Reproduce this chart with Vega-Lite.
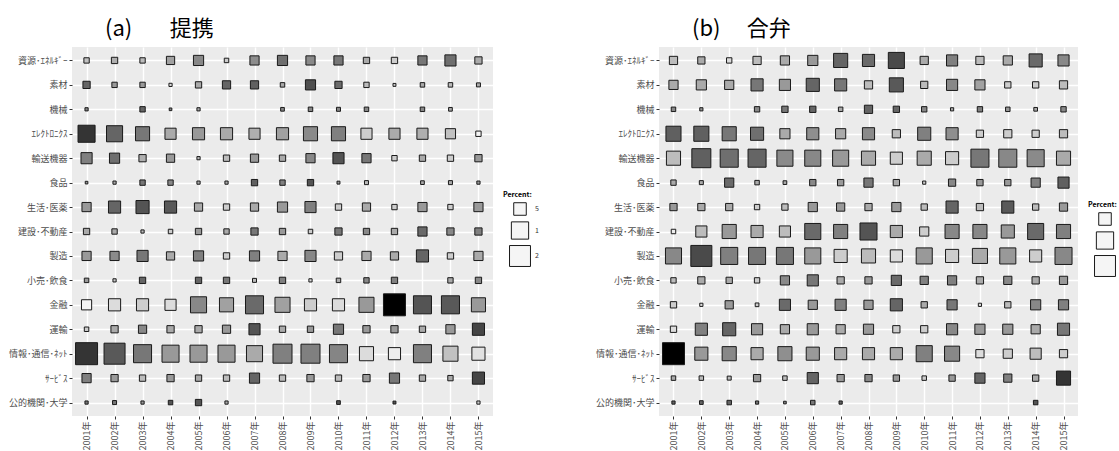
{
  "$schema": "https://vega.github.io/schema/vega-lite/v6.json",
  "background": "white",
  "padding": {"left": 0, "top": 18, "right": 0, "bottom": 0},
  "config": {
    "font": "Noto Sans CJK JP",
    "view": {"fill": "#EBEBEB", "stroke": null},
    "axis": {
      "grid": true,
      "gridColor": "#FFFFFF",
      "gridWidth": 1.4,
      "domain": false,
      "tickColor": "#333333",
      "tickSize": 3,
      "labelColor": "#4D4D4D",
      "labelFontSize": 9,
      "labelPadding": 2
    },
    "legend": {
      "titleFontSize": 7, "titleFontWeight": "bold", "titleColor": "#000000", "titlePadding": 4,
      "labelFontSize": 7, "labelColor": "#333333", "rowPadding": 1, "symbolOffset": 6,
      "symbolType": "square", "symbolFillColor": "#F5F5F5", "symbolStrokeColor": "#1A1A1A", "symbolStrokeWidth": 1
    },
    "title": {"font": "Noto Sans CJK JP", "fontWeight": "normal", "color": "#000000", "fontSize": 22, "anchor": "start", "frame": "group"}
  },
  "datasets": {
    "teikei": [
      {"industry": "資源･ｴﾈﾙｷﾞｰ", "year": "2001年", "percent": 2.65, "score": 22},
      {"industry": "資源･ｴﾈﾙｷﾞｰ", "year": "2002年", "percent": 2.80, "score": 29},
      {"industry": "資源･ｴﾈﾙｷﾞｰ", "year": "2003年", "percent": 2.65, "score": 24},
      {"industry": "資源･ｴﾈﾙｷﾞｰ", "year": "2004年", "percent": 3.21, "score": 35},
      {"industry": "資源･ｴﾈﾙｷﾞｰ", "year": "2005年", "percent": 3.83, "score": 45},
      {"industry": "資源･ｴﾈﾙｷﾞｰ", "year": "2006年", "percent": 2.54, "score": 17},
      {"industry": "資源･ｴﾈﾙｷﾞｰ", "year": "2007年", "percent": 3.49, "score": 43},
      {"industry": "資源･ｴﾈﾙｷﾞｰ", "year": "2008年", "percent": 3.83, "score": 55},
      {"industry": "資源･ｴﾈﾙｷﾞｰ", "year": "2009年", "percent": 3.49, "score": 44},
      {"industry": "資源･ｴﾈﾙｷﾞｰ", "year": "2010年", "percent": 3.49, "score": 52},
      {"industry": "資源･ｴﾈﾙｷﾞｰ", "year": "2011年", "percent": 2.80, "score": 31},
      {"industry": "資源･ｴﾈﾙｷﾞｰ", "year": "2012年", "percent": 2.80, "score": 17},
      {"industry": "資源･ｴﾈﾙｷﾞｰ", "year": "2013年", "percent": 3.49, "score": 52},
      {"industry": "資源･ｴﾈﾙｷﾞｰ", "year": "2014年", "percent": 4.24, "score": 55},
      {"industry": "資源･ｴﾈﾙｷﾞｰ", "year": "2015年", "percent": 2.98, "score": 31},
      {"industry": "素材", "year": "2001年", "percent": 2.98, "score": 59},
      {"industry": "素材", "year": "2002年", "percent": 2.65, "score": 38},
      {"industry": "素材", "year": "2003年", "percent": 2.65, "score": 38},
      {"industry": "素材", "year": "2004年", "percent": 2.42, "score": 11},
      {"industry": "素材", "year": "2005年", "percent": 2.80, "score": 31},
      {"industry": "素材", "year": "2006年", "percent": 3.21, "score": 59},
      {"industry": "素材", "year": "2007年", "percent": 3.21, "score": 61},
      {"industry": "素材", "year": "2008年", "percent": 2.54, "score": 31},
      {"industry": "素材", "year": "2009年", "percent": 3.83, "score": 68},
      {"industry": "素材", "year": "2010年", "percent": 2.98, "score": 57},
      {"industry": "素材", "year": "2011年", "percent": 2.65, "score": 24},
      {"industry": "素材", "year": "2012年", "percent": 2.40, "score": 17},
      {"industry": "素材", "year": "2013年", "percent": 2.54, "score": 31},
      {"industry": "素材", "year": "2014年", "percent": 2.54, "score": 24},
      {"industry": "素材", "year": "2015年", "percent": 2.49, "score": 31},
      {"industry": "機械", "year": "2001年", "percent": 2.42, "score": 45},
      {"industry": "機械", "year": "2003年", "percent": 2.65, "score": 59},
      {"industry": "機械", "year": "2004年", "percent": 2.38, "score": 45},
      {"industry": "機械", "year": "2005年", "percent": 2.42, "score": 31},
      {"industry": "機械", "year": "2008年", "percent": 2.46, "score": 45},
      {"industry": "機械", "year": "2009年", "percent": 2.54, "score": 45},
      {"industry": "機械", "year": "2010年", "percent": 2.49, "score": 45},
      {"industry": "機械", "year": "2011年", "percent": 2.54, "score": 45},
      {"industry": "機械", "year": "2013年", "percent": 2.54, "score": 45},
      {"industry": "機械", "year": "2014年", "percent": 2.46, "score": 31},
      {"industry": "ｴﾚｸﾄﾛﾆｸｽ", "year": "2001年", "percent": 9.64, "score": 79},
      {"industry": "ｴﾚｸﾄﾛﾆｸｽ", "year": "2002年", "percent": 8.21, "score": 59},
      {"industry": "ｴﾚｸﾄﾛﾆｸｽ", "year": "2003年", "percent": 6.13, "score": 52},
      {"industry": "ｴﾚｸﾄﾛﾆｸｽ", "year": "2004年", "percent": 4.24, "score": 31},
      {"industry": "ｴﾚｸﾄﾛﾆｸｽ", "year": "2005年", "percent": 4.75, "score": 38},
      {"industry": "ｴﾚｸﾄﾛﾆｸｽ", "year": "2006年", "percent": 4.75, "score": 31},
      {"industry": "ｴﾚｸﾄﾛﾆｸｽ", "year": "2007年", "percent": 4.24, "score": 29},
      {"industry": "ｴﾚｸﾄﾛﾆｸｽ", "year": "2008年", "percent": 4.75, "score": 35},
      {"industry": "ｴﾚｸﾄﾛﾆｸｽ", "year": "2009年", "percent": 6.13, "score": 44},
      {"industry": "ｴﾚｸﾄﾛﾆｸｽ", "year": "2010年", "percent": 6.13, "score": 48},
      {"industry": "ｴﾚｸﾄﾛﾆｸｽ", "year": "2011年", "percent": 4.24, "score": 17},
      {"industry": "ｴﾚｸﾄﾛﾆｸｽ", "year": "2012年", "percent": 4.24, "score": 31},
      {"industry": "ｴﾚｸﾄﾛﾆｸｽ", "year": "2013年", "percent": 4.24, "score": 29},
      {"industry": "ｴﾚｸﾄﾛﾆｸｽ", "year": "2014年", "percent": 3.83, "score": 22},
      {"industry": "ｴﾚｸﾄﾛﾆｸｽ", "year": "2015年", "percent": 2.65, "score": 1},
      {"industry": "輸送機器", "year": "2001年", "percent": 4.24, "score": 48},
      {"industry": "輸送機器", "year": "2002年", "percent": 3.83, "score": 55},
      {"industry": "輸送機器", "year": "2003年", "percent": 2.98, "score": 29},
      {"industry": "輸送機器", "year": "2004年", "percent": 3.21, "score": 38},
      {"industry": "輸送機器", "year": "2005年", "percent": 2.42, "score": 24},
      {"industry": "輸送機器", "year": "2006年", "percent": 2.80, "score": 24},
      {"industry": "輸送機器", "year": "2007年", "percent": 3.21, "score": 38},
      {"industry": "輸送機器", "year": "2008年", "percent": 2.80, "score": 31},
      {"industry": "輸送機器", "year": "2009年", "percent": 3.49, "score": 45},
      {"industry": "輸送機器", "year": "2010年", "percent": 4.24, "score": 66},
      {"industry": "輸送機器", "year": "2011年", "percent": 3.49, "score": 52},
      {"industry": "輸送機器", "year": "2012年", "percent": 2.65, "score": 17},
      {"industry": "輸送機器", "year": "2013年", "percent": 2.80, "score": 31},
      {"industry": "輸送機器", "year": "2014年", "percent": 2.80, "score": 17},
      {"industry": "輸送機器", "year": "2015年", "percent": 2.98, "score": 38},
      {"industry": "食品", "year": "2001年", "percent": 2.38, "score": 38},
      {"industry": "食品", "year": "2002年", "percent": 2.42, "score": 31},
      {"industry": "食品", "year": "2003年", "percent": 2.65, "score": 52},
      {"industry": "食品", "year": "2004年", "percent": 2.65, "score": 45},
      {"industry": "食品", "year": "2005年", "percent": 2.42, "score": 31},
      {"industry": "食品", "year": "2006年", "percent": 2.42, "score": 31},
      {"industry": "食品", "year": "2007年", "percent": 2.80, "score": 61},
      {"industry": "食品", "year": "2008年", "percent": 2.65, "score": 48},
      {"industry": "食品", "year": "2009年", "percent": 2.80, "score": 66},
      {"industry": "食品", "year": "2010年", "percent": 2.40, "score": 38},
      {"industry": "食品", "year": "2011年", "percent": 2.49, "score": 24},
      {"industry": "食品", "year": "2013年", "percent": 2.46, "score": 31},
      {"industry": "食品", "year": "2014年", "percent": 2.49, "score": 31},
      {"industry": "食品", "year": "2015年", "percent": 2.42, "score": 38},
      {"industry": "生活･医薬", "year": "2001年", "percent": 3.49, "score": 38},
      {"industry": "生活･医薬", "year": "2002年", "percent": 4.75, "score": 59},
      {"industry": "生活･医薬", "year": "2003年", "percent": 5.37, "score": 66},
      {"industry": "生活･医薬", "year": "2004年", "percent": 4.75, "score": 64},
      {"industry": "生活･医薬", "year": "2005年", "percent": 3.21, "score": 31},
      {"industry": "生活･医薬", "year": "2006年", "percent": 2.80, "score": 17},
      {"industry": "生活･医薬", "year": "2007年", "percent": 3.21, "score": 31},
      {"industry": "生活･医薬", "year": "2008年", "percent": 3.83, "score": 38},
      {"industry": "生活･医薬", "year": "2009年", "percent": 4.24, "score": 48},
      {"industry": "生活･医薬", "year": "2010年", "percent": 2.80, "score": 17},
      {"industry": "生活･医薬", "year": "2011年", "percent": 3.21, "score": 31},
      {"industry": "生活･医薬", "year": "2012年", "percent": 2.65, "score": 17},
      {"industry": "生活･医薬", "year": "2013年", "percent": 3.49, "score": 38},
      {"industry": "生活･医薬", "year": "2014年", "percent": 2.65, "score": 17},
      {"industry": "生活･医薬", "year": "2015年", "percent": 3.49, "score": 38},
      {"industry": "建設･不動産", "year": "2001年", "percent": 2.80, "score": 31},
      {"industry": "建設･不動産", "year": "2002年", "percent": 2.65, "score": 31},
      {"industry": "建設･不動産", "year": "2003年", "percent": 2.42, "score": 24},
      {"industry": "建設･不動産", "year": "2004年", "percent": 2.54, "score": 17},
      {"industry": "建設･不動産", "year": "2005年", "percent": 2.80, "score": 38},
      {"industry": "建設･不動産", "year": "2006年", "percent": 2.65, "score": 31},
      {"industry": "建設･不動産", "year": "2007年", "percent": 2.98, "score": 52},
      {"industry": "建設･不動産", "year": "2008年", "percent": 2.80, "score": 38},
      {"industry": "建設･不動産", "year": "2009年", "percent": 2.54, "score": 17},
      {"industry": "建設･不動産", "year": "2010年", "percent": 2.98, "score": 52},
      {"industry": "建設･不動産", "year": "2011年", "percent": 2.80, "score": 45},
      {"industry": "建設･不動産", "year": "2012年", "percent": 2.80, "score": 31},
      {"industry": "建設･不動産", "year": "2013年", "percent": 3.49, "score": 57},
      {"industry": "建設･不動産", "year": "2014年", "percent": 2.98, "score": 45},
      {"industry": "建設･不動産", "year": "2015年", "percent": 2.98, "score": 48},
      {"industry": "製造", "year": "2001年", "percent": 3.49, "score": 38},
      {"industry": "製造", "year": "2002年", "percent": 3.49, "score": 44},
      {"industry": "製造", "year": "2003年", "percent": 4.24, "score": 52},
      {"industry": "製造", "year": "2004年", "percent": 3.21, "score": 31},
      {"industry": "製造", "year": "2005年", "percent": 3.83, "score": 48},
      {"industry": "製造", "year": "2006年", "percent": 2.80, "score": 17},
      {"industry": "製造", "year": "2007年", "percent": 3.83, "score": 48},
      {"industry": "製造", "year": "2008年", "percent": 3.49, "score": 31},
      {"industry": "製造", "year": "2009年", "percent": 4.24, "score": 45},
      {"industry": "製造", "year": "2010年", "percent": 3.21, "score": 17},
      {"industry": "製造", "year": "2011年", "percent": 3.49, "score": 31},
      {"industry": "製造", "year": "2012年", "percent": 3.21, "score": 31},
      {"industry": "製造", "year": "2013年", "percent": 4.75, "score": 59},
      {"industry": "製造", "year": "2014年", "percent": 2.80, "score": 17},
      {"industry": "製造", "year": "2015年", "percent": 3.49, "score": 31},
      {"industry": "小売･飲食", "year": "2001年", "percent": 2.54, "score": 38},
      {"industry": "小売･飲食", "year": "2002年", "percent": 2.42, "score": 17},
      {"industry": "小売･飲食", "year": "2003年", "percent": 2.80, "score": 59},
      {"industry": "小売･飲食", "year": "2005年", "percent": 2.80, "score": 59},
      {"industry": "小売･飲食", "year": "2006年", "percent": 2.80, "score": 52},
      {"industry": "小売･飲食", "year": "2007年", "percent": 2.49, "score": 24},
      {"industry": "小売･飲食", "year": "2008年", "percent": 2.80, "score": 48},
      {"industry": "小売･飲食", "year": "2009年", "percent": 2.42, "score": 11},
      {"industry": "小売･飲食", "year": "2010年", "percent": 2.54, "score": 31},
      {"industry": "小売･飲食", "year": "2011年", "percent": 2.65, "score": 45},
      {"industry": "小売･飲食", "year": "2012年", "percent": 2.80, "score": 48},
      {"industry": "小売･飲食", "year": "2014年", "percent": 2.65, "score": 31},
      {"industry": "小売･飲食", "year": "2015年", "percent": 2.80, "score": 45},
      {"industry": "金融", "year": "2001年", "percent": 3.83, "score": 1},
      {"industry": "金融", "year": "2002年", "percent": 4.75, "score": 11},
      {"industry": "金融", "year": "2003年", "percent": 4.75, "score": 17},
      {"industry": "金融", "year": "2004年", "percent": 4.24, "score": 11},
      {"industry": "金融", "year": "2005年", "percent": 8.21, "score": 45},
      {"industry": "金融", "year": "2006年", "percent": 6.13, "score": 35},
      {"industry": "金融", "year": "2007年", "percent": 11.44, "score": 57},
      {"industry": "金融", "year": "2008年", "percent": 7.05, "score": 35},
      {"industry": "金融", "year": "2009年", "percent": 4.75, "score": 17},
      {"industry": "金融", "year": "2010年", "percent": 4.75, "score": 11},
      {"industry": "金融", "year": "2011年", "percent": 7.05, "score": 38},
      {"industry": "金融", "year": "2012年", "percent": 25.0, "score": 100},
      {"industry": "金融", "year": "2013年", "percent": 11.44, "score": 66},
      {"industry": "金融", "year": "2014年", "percent": 11.44, "score": 64},
      {"industry": "金融", "year": "2015年", "percent": 6.13, "score": 38},
      {"industry": "運輸", "year": "2001年", "percent": 2.54, "score": 17},
      {"industry": "運輸", "year": "2002年", "percent": 2.98, "score": 31},
      {"industry": "運輸", "year": "2003年", "percent": 3.21, "score": 45},
      {"industry": "運輸", "year": "2004年", "percent": 2.98, "score": 31},
      {"industry": "運輸", "year": "2005年", "percent": 2.98, "score": 31},
      {"industry": "運輸", "year": "2006年", "percent": 3.21, "score": 38},
      {"industry": "運輸", "year": "2007年", "percent": 4.24, "score": 66},
      {"industry": "運輸", "year": "2008年", "percent": 2.80, "score": 31},
      {"industry": "運輸", "year": "2009年", "percent": 2.80, "score": 38},
      {"industry": "運輸", "year": "2010年", "percent": 3.83, "score": 52},
      {"industry": "運輸", "year": "2011年", "percent": 2.98, "score": 38},
      {"industry": "運輸", "year": "2012年", "percent": 2.98, "score": 38},
      {"industry": "運輸", "year": "2013年", "percent": 2.80, "score": 31},
      {"industry": "運輸", "year": "2014年", "percent": 3.49, "score": 38},
      {"industry": "運輸", "year": "2015年", "percent": 4.75, "score": 72},
      {"industry": "情報･通信･ﾈｯﾄ", "year": "2001年", "percent": 25.0, "score": 79},
      {"industry": "情報･通信･ﾈｯﾄ", "year": "2002年", "percent": 20.3, "score": 64},
      {"industry": "情報･通信･ﾈｯﾄ", "year": "2003年", "percent": 11.44, "score": 52},
      {"industry": "情報･通信･ﾈｯﾄ", "year": "2004年", "percent": 9.64, "score": 38},
      {"industry": "情報･通信･ﾈｯﾄ", "year": "2005年", "percent": 9.64, "score": 38},
      {"industry": "情報･通信･ﾈｯﾄ", "year": "2006年", "percent": 9.64, "score": 38},
      {"industry": "情報･通信･ﾈｯﾄ", "year": "2007年", "percent": 8.21, "score": 31},
      {"industry": "情報･通信･ﾈｯﾄ", "year": "2008年", "percent": 13.7, "score": 48},
      {"industry": "情報･通信･ﾈｯﾄ", "year": "2009年", "percent": 13.7, "score": 48},
      {"industry": "情報･通信･ﾈｯﾄ", "year": "2010年", "percent": 11.44, "score": 46},
      {"industry": "情報･通信･ﾈｯﾄ", "year": "2011年", "percent": 6.13, "score": 11},
      {"industry": "情報･通信･ﾈｯﾄ", "year": "2012年", "percent": 4.75, "score": 4},
      {"industry": "情報･通信･ﾈｯﾄ", "year": "2013年", "percent": 11.44, "score": 48},
      {"industry": "情報･通信･ﾈｯﾄ", "year": "2014年", "percent": 7.05, "score": 22},
      {"industry": "情報･通信･ﾈｯﾄ", "year": "2015年", "percent": 5.37, "score": 9},
      {"industry": "ｻｰﾋﾞｽ", "year": "2001年", "percent": 3.49, "score": 48},
      {"industry": "ｻｰﾋﾞｽ", "year": "2002年", "percent": 2.98, "score": 38},
      {"industry": "ｻｰﾋﾞｽ", "year": "2003年", "percent": 2.80, "score": 24},
      {"industry": "ｻｰﾋﾞｽ", "year": "2004年", "percent": 2.98, "score": 38},
      {"industry": "ｻｰﾋﾞｽ", "year": "2005年", "percent": 2.80, "score": 31},
      {"industry": "ｻｰﾋﾞｽ", "year": "2006年", "percent": 2.80, "score": 24},
      {"industry": "ｻｰﾋﾞｽ", "year": "2007年", "percent": 3.83, "score": 59},
      {"industry": "ｻｰﾋﾞｽ", "year": "2008年", "percent": 2.80, "score": 24},
      {"industry": "ｻｰﾋﾞｽ", "year": "2009年", "percent": 2.98, "score": 38},
      {"industry": "ｻｰﾋﾞｽ", "year": "2010年", "percent": 2.80, "score": 24},
      {"industry": "ｻｰﾋﾞｽ", "year": "2011年", "percent": 2.98, "score": 38},
      {"industry": "ｻｰﾋﾞｽ", "year": "2012年", "percent": 3.83, "score": 52},
      {"industry": "ｻｰﾋﾞｽ", "year": "2013年", "percent": 2.80, "score": 31},
      {"industry": "ｻｰﾋﾞｽ", "year": "2014年", "percent": 2.65, "score": 31},
      {"industry": "ｻｰﾋﾞｽ", "year": "2015年", "percent": 4.75, "score": 72},
      {"industry": "公的機関･大学", "year": "2001年", "percent": 2.42, "score": 52},
      {"industry": "公的機関･大学", "year": "2002年", "percent": 2.49, "score": 52},
      {"industry": "公的機関･大学", "year": "2003年", "percent": 2.42, "score": 38},
      {"industry": "公的機関･大学", "year": "2004年", "percent": 2.54, "score": 66},
      {"industry": "公的機関･大学", "year": "2005年", "percent": 2.80, "score": 66},
      {"industry": "公的機関･大学", "year": "2006年", "percent": 2.42, "score": 31},
      {"industry": "公的機関･大学", "year": "2010年", "percent": 2.46, "score": 66},
      {"industry": "公的機関･大学", "year": "2012年", "percent": 2.40, "score": 66},
      {"industry": "公的機関･大学", "year": "2015年", "percent": 2.42, "score": 17}
    ],
    "goben": [
      {"industry": "資源･ｴﾈﾙｷﾞｰ", "year": "2001年", "percent": 3.21, "score": 24},
      {"industry": "資源･ｴﾈﾙｷﾞｰ", "year": "2002年", "percent": 2.98, "score": 31},
      {"industry": "資源･ｴﾈﾙｷﾞｰ", "year": "2003年", "percent": 2.65, "score": 11},
      {"industry": "資源･ｴﾈﾙｷﾞｰ", "year": "2004年", "percent": 3.21, "score": 24},
      {"industry": "資源･ｴﾈﾙｷﾞｰ", "year": "2005年", "percent": 3.49, "score": 31},
      {"industry": "資源･ｴﾈﾙｷﾞｰ", "year": "2006年", "percent": 3.83, "score": 38},
      {"industry": "資源･ｴﾈﾙｷﾞｰ", "year": "2007年", "percent": 6.13, "score": 59},
      {"industry": "資源･ｴﾈﾙｷﾞｰ", "year": "2008年", "percent": 4.75, "score": 57},
      {"industry": "資源･ｴﾈﾙｷﾞｰ", "year": "2009年", "percent": 8.21, "score": 70},
      {"industry": "資源･ｴﾈﾙｷﾞｰ", "year": "2010年", "percent": 3.21, "score": 31},
      {"industry": "資源･ｴﾈﾙｷﾞｰ", "year": "2011年", "percent": 4.24, "score": 48},
      {"industry": "資源･ｴﾈﾙｷﾞｰ", "year": "2012年", "percent": 3.21, "score": 24},
      {"industry": "資源･ｴﾈﾙｷﾞｰ", "year": "2013年", "percent": 3.49, "score": 31},
      {"industry": "資源･ｴﾈﾙｷﾞｰ", "year": "2014年", "percent": 5.37, "score": 57},
      {"industry": "資源･ｴﾈﾙｷﾞｰ", "year": "2015年", "percent": 4.24, "score": 45},
      {"industry": "素材", "year": "2001年", "percent": 3.49, "score": 31},
      {"industry": "素材", "year": "2002年", "percent": 3.83, "score": 31},
      {"industry": "素材", "year": "2003年", "percent": 3.49, "score": 31},
      {"industry": "素材", "year": "2004年", "percent": 4.75, "score": 52},
      {"industry": "素材", "year": "2005年", "percent": 4.24, "score": 38},
      {"industry": "素材", "year": "2006年", "percent": 5.37, "score": 59},
      {"industry": "素材", "year": "2007年", "percent": 4.75, "score": 52},
      {"industry": "素材", "year": "2008年", "percent": 3.21, "score": 24},
      {"industry": "素材", "year": "2009年", "percent": 6.13, "score": 64},
      {"industry": "素材", "year": "2010年", "percent": 2.98, "score": 24},
      {"industry": "素材", "year": "2011年", "percent": 4.24, "score": 45},
      {"industry": "素材", "year": "2012年", "percent": 3.83, "score": 35},
      {"industry": "素材", "year": "2013年", "percent": 2.80, "score": 17},
      {"industry": "素材", "year": "2014年", "percent": 2.80, "score": 17},
      {"industry": "素材", "year": "2015年", "percent": 3.21, "score": 24},
      {"industry": "機械", "year": "2001年", "percent": 2.54, "score": 45},
      {"industry": "機械", "year": "2002年", "percent": 2.42, "score": 38},
      {"industry": "機械", "year": "2004年", "percent": 2.65, "score": 45},
      {"industry": "機械", "year": "2005年", "percent": 2.80, "score": 52},
      {"industry": "機械", "year": "2006年", "percent": 2.80, "score": 59},
      {"industry": "機械", "year": "2007年", "percent": 2.54, "score": 31},
      {"industry": "機械", "year": "2008年", "percent": 3.21, "score": 59},
      {"industry": "機械", "year": "2009年", "percent": 2.80, "score": 59},
      {"industry": "機械", "year": "2010年", "percent": 2.65, "score": 45},
      {"industry": "機械", "year": "2011年", "percent": 2.42, "score": 31},
      {"industry": "機械", "year": "2012年", "percent": 2.65, "score": 48},
      {"industry": "機械", "year": "2013年", "percent": 2.54, "score": 38},
      {"industry": "機械", "year": "2014年", "percent": 2.46, "score": 31},
      {"industry": "機械", "year": "2015年", "percent": 2.65, "score": 45},
      {"industry": "ｴﾚｸﾄﾛﾆｸｽ", "year": "2001年", "percent": 7.05, "score": 61},
      {"industry": "ｴﾚｸﾄﾛﾆｸｽ", "year": "2002年", "percent": 7.05, "score": 61},
      {"industry": "ｴﾚｸﾄﾛﾆｸｽ", "year": "2003年", "percent": 6.13, "score": 52},
      {"industry": "ｴﾚｸﾄﾛﾆｸｽ", "year": "2004年", "percent": 5.37, "score": 55},
      {"industry": "ｴﾚｸﾄﾛﾆｸｽ", "year": "2005年", "percent": 3.83, "score": 31},
      {"industry": "ｴﾚｸﾄﾛﾆｸｽ", "year": "2006年", "percent": 4.75, "score": 42},
      {"industry": "ｴﾚｸﾄﾛﾆｸｽ", "year": "2007年", "percent": 3.83, "score": 31},
      {"industry": "ｴﾚｸﾄﾛﾆｸｽ", "year": "2008年", "percent": 4.75, "score": 44},
      {"industry": "ｴﾚｸﾄﾛﾆｸｽ", "year": "2009年", "percent": 3.21, "score": 24},
      {"industry": "ｴﾚｸﾄﾛﾆｸｽ", "year": "2010年", "percent": 5.37, "score": 48},
      {"industry": "ｴﾚｸﾄﾛﾆｸｽ", "year": "2011年", "percent": 4.75, "score": 42},
      {"industry": "ｴﾚｸﾄﾛﾆｸｽ", "year": "2012年", "percent": 2.98, "score": 17},
      {"industry": "ｴﾚｸﾄﾛﾆｸｽ", "year": "2013年", "percent": 3.21, "score": 17},
      {"industry": "ｴﾚｸﾄﾛﾆｸｽ", "year": "2014年", "percent": 2.98, "score": 17},
      {"industry": "ｴﾚｸﾄﾛﾆｸｽ", "year": "2015年", "percent": 3.21, "score": 24},
      {"industry": "輸送機器", "year": "2001年", "percent": 6.13, "score": 24},
      {"industry": "輸送機器", "year": "2002年", "percent": 13.7, "score": 61},
      {"industry": "輸送機器", "year": "2003年", "percent": 11.44, "score": 55},
      {"industry": "輸送機器", "year": "2004年", "percent": 11.44, "score": 59},
      {"industry": "輸送機器", "year": "2005年", "percent": 8.21, "score": 44},
      {"industry": "輸送機器", "year": "2006年", "percent": 8.21, "score": 45},
      {"industry": "輸送機器", "year": "2007年", "percent": 8.21, "score": 38},
      {"industry": "輸送機器", "year": "2008年", "percent": 6.13, "score": 31},
      {"industry": "輸送機器", "year": "2009年", "percent": 4.75, "score": 17},
      {"industry": "輸送機器", "year": "2010年", "percent": 6.13, "score": 31},
      {"industry": "輸送機器", "year": "2011年", "percent": 5.37, "score": 17},
      {"industry": "輸送機器", "year": "2012年", "percent": 11.44, "score": 52},
      {"industry": "輸送機器", "year": "2013年", "percent": 11.44, "score": 45},
      {"industry": "輸送機器", "year": "2014年", "percent": 9.64, "score": 44},
      {"industry": "輸送機器", "year": "2015年", "percent": 6.13, "score": 31},
      {"industry": "食品", "year": "2001年", "percent": 2.65, "score": 31},
      {"industry": "食品", "year": "2002年", "percent": 2.49, "score": 31},
      {"industry": "食品", "year": "2003年", "percent": 3.49, "score": 57},
      {"industry": "食品", "year": "2004年", "percent": 2.54, "score": 31},
      {"industry": "食品", "year": "2005年", "percent": 2.46, "score": 31},
      {"industry": "食品", "year": "2006年", "percent": 2.80, "score": 45},
      {"industry": "食品", "year": "2007年", "percent": 2.80, "score": 38},
      {"industry": "食品", "year": "2008年", "percent": 3.49, "score": 52},
      {"industry": "食品", "year": "2009年", "percent": 2.80, "score": 31},
      {"industry": "食品", "year": "2010年", "percent": 2.42, "score": 17},
      {"industry": "食品", "year": "2011年", "percent": 2.98, "score": 45},
      {"industry": "食品", "year": "2012年", "percent": 2.80, "score": 38},
      {"industry": "食品", "year": "2013年", "percent": 2.80, "score": 38},
      {"industry": "食品", "year": "2014年", "percent": 3.49, "score": 48},
      {"industry": "食品", "year": "2015年", "percent": 4.24, "score": 61},
      {"industry": "生活･医薬", "year": "2001年", "percent": 2.98, "score": 38},
      {"industry": "生活･医薬", "year": "2002年", "percent": 2.98, "score": 31},
      {"industry": "生活･医薬", "year": "2003年", "percent": 2.98, "score": 31},
      {"industry": "生活･医薬", "year": "2004年", "percent": 2.65, "score": 17},
      {"industry": "生活･医薬", "year": "2005年", "percent": 2.80, "score": 24},
      {"industry": "生活･医薬", "year": "2006年", "percent": 3.49, "score": 38},
      {"industry": "生活･医薬", "year": "2007年", "percent": 3.21, "score": 38},
      {"industry": "生活･医薬", "year": "2008年", "percent": 2.98, "score": 31},
      {"industry": "生活･医薬", "year": "2009年", "percent": 3.49, "score": 38},
      {"industry": "生活･医薬", "year": "2010年", "percent": 2.80, "score": 24},
      {"industry": "生活･医薬", "year": "2011年", "percent": 4.75, "score": 59},
      {"industry": "生活･医薬", "year": "2012年", "percent": 2.98, "score": 24},
      {"industry": "生活･医薬", "year": "2013年", "percent": 4.75, "score": 64},
      {"industry": "生活･医薬", "year": "2014年", "percent": 2.80, "score": 24},
      {"industry": "生活･医薬", "year": "2015年", "percent": 3.21, "score": 38},
      {"industry": "建設･不動産", "year": "2001年", "percent": 2.54, "score": 4},
      {"industry": "建設･不動産", "year": "2002年", "percent": 4.24, "score": 24},
      {"industry": "建設･不動産", "year": "2003年", "percent": 6.13, "score": 38},
      {"industry": "建設･不動産", "year": "2004年", "percent": 4.75, "score": 31},
      {"industry": "建設･不動産", "year": "2005年", "percent": 4.24, "score": 24},
      {"industry": "建設･不動産", "year": "2006年", "percent": 8.21, "score": 57},
      {"industry": "建設･不動産", "year": "2007年", "percent": 6.13, "score": 48},
      {"industry": "建設･不動産", "year": "2008年", "percent": 9.64, "score": 66},
      {"industry": "建設･不動産", "year": "2009年", "percent": 4.75, "score": 31},
      {"industry": "建設･不動産", "year": "2010年", "percent": 3.49, "score": 17},
      {"industry": "建設･不動産", "year": "2011年", "percent": 6.13, "score": 45},
      {"industry": "建設･不動産", "year": "2012年", "percent": 6.13, "score": 45},
      {"industry": "建設･不動産", "year": "2013年", "percent": 5.37, "score": 38},
      {"industry": "建設･不動産", "year": "2014年", "percent": 8.21, "score": 57},
      {"industry": "建設･不動産", "year": "2015年", "percent": 6.13, "score": 48},
      {"industry": "製造", "year": "2001年", "percent": 8.21, "score": 45},
      {"industry": "製造", "year": "2002年", "percent": 20.3, "score": 70},
      {"industry": "製造", "year": "2003年", "percent": 9.64, "score": 48},
      {"industry": "製造", "year": "2004年", "percent": 9.64, "score": 52},
      {"industry": "製造", "year": "2005年", "percent": 9.64, "score": 52},
      {"industry": "製造", "year": "2006年", "percent": 8.21, "score": 38},
      {"industry": "製造", "year": "2007年", "percent": 5.37, "score": 17},
      {"industry": "製造", "year": "2008年", "percent": 6.13, "score": 24},
      {"industry": "製造", "year": "2009年", "percent": 4.75, "score": 11},
      {"industry": "製造", "year": "2010年", "percent": 8.21, "score": 38},
      {"industry": "製造", "year": "2011年", "percent": 5.37, "score": 17},
      {"industry": "製造", "year": "2012年", "percent": 7.05, "score": 31},
      {"industry": "製造", "year": "2013年", "percent": 8.21, "score": 38},
      {"industry": "製造", "year": "2014年", "percent": 4.75, "score": 17},
      {"industry": "製造", "year": "2015年", "percent": 9.64, "score": 45},
      {"industry": "小売･飲食", "year": "2001年", "percent": 2.65, "score": 24},
      {"industry": "小売･飲食", "year": "2002年", "percent": 2.98, "score": 31},
      {"industry": "小売･飲食", "year": "2003年", "percent": 2.80, "score": 31},
      {"industry": "小売･飲食", "year": "2004年", "percent": 2.65, "score": 17},
      {"industry": "小売･飲食", "year": "2005年", "percent": 3.49, "score": 45},
      {"industry": "小売･飲食", "year": "2006年", "percent": 4.24, "score": 52},
      {"industry": "小売･飲食", "year": "2007年", "percent": 2.98, "score": 31},
      {"industry": "小売･飲食", "year": "2008年", "percent": 2.98, "score": 38},
      {"industry": "小売･飲食", "year": "2009年", "percent": 3.83, "score": 57},
      {"industry": "小売･飲食", "year": "2010年", "percent": 3.21, "score": 48},
      {"industry": "小売･飲食", "year": "2011年", "percent": 3.49, "score": 48},
      {"industry": "小売･飲食", "year": "2012年", "percent": 2.98, "score": 31},
      {"industry": "小売･飲食", "year": "2013年", "percent": 3.21, "score": 45},
      {"industry": "小売･飲食", "year": "2014年", "percent": 2.98, "score": 31},
      {"industry": "小売･飲食", "year": "2015年", "percent": 3.21, "score": 38},
      {"industry": "金融", "year": "2001年", "percent": 2.80, "score": 17},
      {"industry": "金融", "year": "2002年", "percent": 2.42, "score": 11},
      {"industry": "金融", "year": "2003年", "percent": 3.21, "score": 38},
      {"industry": "金融", "year": "2004年", "percent": 2.46, "score": 17},
      {"industry": "金融", "year": "2005年", "percent": 4.24, "score": 57},
      {"industry": "金融", "year": "2006年", "percent": 3.49, "score": 38},
      {"industry": "金融", "year": "2007年", "percent": 4.24, "score": 48},
      {"industry": "金融", "year": "2008年", "percent": 3.49, "score": 38},
      {"industry": "金融", "year": "2009年", "percent": 4.75, "score": 59},
      {"industry": "金融", "year": "2010年", "percent": 2.80, "score": 31},
      {"industry": "金融", "year": "2011年", "percent": 3.83, "score": 52},
      {"industry": "金融", "year": "2012年", "percent": 2.42, "score": 11},
      {"industry": "金融", "year": "2013年", "percent": 2.80, "score": 24},
      {"industry": "金融", "year": "2014年", "percent": 3.83, "score": 45},
      {"industry": "金融", "year": "2015年", "percent": 3.83, "score": 48},
      {"industry": "運輸", "year": "2001年", "percent": 2.80, "score": 11},
      {"industry": "運輸", "year": "2002年", "percent": 4.75, "score": 48},
      {"industry": "運輸", "year": "2003年", "percent": 5.37, "score": 59},
      {"industry": "運輸", "year": "2004年", "percent": 4.24, "score": 38},
      {"industry": "運輸", "year": "2005年", "percent": 3.49, "score": 31},
      {"industry": "運輸", "year": "2006年", "percent": 4.24, "score": 38},
      {"industry": "運輸", "year": "2007年", "percent": 3.49, "score": 31},
      {"industry": "運輸", "year": "2008年", "percent": 3.83, "score": 38},
      {"industry": "運輸", "year": "2009年", "percent": 2.98, "score": 17},
      {"industry": "運輸", "year": "2010年", "percent": 2.98, "score": 17},
      {"industry": "運輸", "year": "2011年", "percent": 4.24, "score": 45},
      {"industry": "運輸", "year": "2012年", "percent": 3.83, "score": 38},
      {"industry": "運輸", "year": "2013年", "percent": 3.83, "score": 38},
      {"industry": "運輸", "year": "2014年", "percent": 3.49, "score": 31},
      {"industry": "運輸", "year": "2015年", "percent": 4.75, "score": 52},
      {"industry": "情報･通信･ﾈｯﾄ", "year": "2001年", "percent": 25.0, "score": 100},
      {"industry": "情報･通信･ﾈｯﾄ", "year": "2002年", "percent": 5.37, "score": 38},
      {"industry": "情報･通信･ﾈｯﾄ", "year": "2003年", "percent": 6.13, "score": 45},
      {"industry": "情報･通信･ﾈｯﾄ", "year": "2004年", "percent": 4.75, "score": 31},
      {"industry": "情報･通信･ﾈｯﾄ", "year": "2005年", "percent": 6.13, "score": 42},
      {"industry": "情報･通信･ﾈｯﾄ", "year": "2006年", "percent": 5.37, "score": 38},
      {"industry": "情報･通信･ﾈｯﾄ", "year": "2007年", "percent": 4.75, "score": 31},
      {"industry": "情報･通信･ﾈｯﾄ", "year": "2008年", "percent": 4.75, "score": 31},
      {"industry": "情報･通信･ﾈｯﾄ", "year": "2009年", "percent": 4.75, "score": 31},
      {"industry": "情報･通信･ﾈｯﾄ", "year": "2010年", "percent": 8.21, "score": 48},
      {"industry": "情報･通信･ﾈｯﾄ", "year": "2011年", "percent": 7.05, "score": 45},
      {"industry": "情報･通信･ﾈｯﾄ", "year": "2012年", "percent": 3.21, "score": 11},
      {"industry": "情報･通信･ﾈｯﾄ", "year": "2013年", "percent": 3.49, "score": 17},
      {"industry": "情報･通信･ﾈｯﾄ", "year": "2014年", "percent": 4.24, "score": 24},
      {"industry": "情報･通信･ﾈｯﾄ", "year": "2015年", "percent": 3.21, "score": 17},
      {"industry": "ｻｰﾋﾞｽ", "year": "2001年", "percent": 2.54, "score": 31},
      {"industry": "ｻｰﾋﾞｽ", "year": "2002年", "percent": 2.54, "score": 24},
      {"industry": "ｻｰﾋﾞｽ", "year": "2003年", "percent": 2.49, "score": 24},
      {"industry": "ｻｰﾋﾞｽ", "year": "2004年", "percent": 2.98, "score": 38},
      {"industry": "ｻｰﾋﾞｽ", "year": "2005年", "percent": 2.54, "score": 24},
      {"industry": "ｻｰﾋﾞｽ", "year": "2006年", "percent": 4.24, "score": 59},
      {"industry": "ｻｰﾋﾞｽ", "year": "2007年", "percent": 2.98, "score": 38},
      {"industry": "ｻｰﾋﾞｽ", "year": "2008年", "percent": 2.98, "score": 45},
      {"industry": "ｻｰﾋﾞｽ", "year": "2009年", "percent": 2.80, "score": 38},
      {"industry": "ｻｰﾋﾞｽ", "year": "2010年", "percent": 2.54, "score": 17},
      {"industry": "ｻｰﾋﾞｽ", "year": "2011年", "percent": 2.80, "score": 38},
      {"industry": "ｻｰﾋﾞｽ", "year": "2012年", "percent": 3.83, "score": 59},
      {"industry": "ｻｰﾋﾞｽ", "year": "2013年", "percent": 3.21, "score": 48},
      {"industry": "ｻｰﾋﾞｽ", "year": "2014年", "percent": 2.80, "score": 31},
      {"industry": "ｻｰﾋﾞｽ", "year": "2015年", "percent": 6.13, "score": 79},
      {"industry": "公的機関･大学", "year": "2001年", "percent": 2.42, "score": 59},
      {"industry": "公的機関･大学", "year": "2002年", "percent": 2.46, "score": 59},
      {"industry": "公的機関･大学", "year": "2003年", "percent": 2.54, "score": 59},
      {"industry": "公的機関･大学", "year": "2004年", "percent": 2.42, "score": 52},
      {"industry": "公的機関･大学", "year": "2005年", "percent": 2.38, "score": 45},
      {"industry": "公的機関･大学", "year": "2006年", "percent": 2.54, "score": 52},
      {"industry": "公的機関･大学", "year": "2007年", "percent": 2.42, "score": 59},
      {"industry": "公的機関･大学", "year": "2014年", "percent": 2.54, "score": 66}
    ]
  },
  "hconcat": [
    {
      "title": {"text": "(a)　\u2002\u2009提携", "dx": 33, "offset": 6},
      "width": 421,
      "height": 369,
      "data": {"name": "teikei"},
      "mark": {"type": "square", "filled": true, "stroke": "#1A1A1A", "strokeWidth": 1, "opacity": 1},
      "encoding": {
        "x": {"field": "year", "type": "ordinal", "title": null,
              "scale": {"type": "point", "padding": 0.52, "domain": ["2001年","2002年","2003年","2004年","2005年","2006年","2007年","2008年","2009年","2010年","2011年","2012年","2013年","2014年","2015年"]},
              "axis": {"labelAngle": -90}},
        "y": {"field": "industry", "type": "ordinal", "title": null,
              "scale": {"type": "point", "padding": 0.55, "domain": ["資源･ｴﾈﾙｷﾞｰ","素材","機械","ｴﾚｸﾄﾛﾆｸｽ","輸送機器","食品","生活･医薬","建設･不動産","製造","小売･飲食","金融","運輸","情報･通信･ﾈｯﾄ","ｻｰﾋﾞｽ","公的機関･大学"]},
              "axis": {"minExtent": 72, "maxExtent": 72}},
        "size": {"field": "percent", "type": "quantitative",
                 "scale": {"type": "log", "domain": [2.3, 25], "range": [0, 484], "zero": false, "nice": false},
                 "legend": {"title": "Percent:", "orient": "none", "legendX": 431, "legendY": 144,
                            "values": [5, 10, 20], "labelExpr": "slice(datum.label, 0, 1)"}},
        "color": {"field": "score", "type": "quantitative",
                  "scale": {"type": "linear", "domain": [0, 100], "range": ["#F7F7F7", "#000000"], "interpolate": "rgb"},
                  "legend": null}
      }
    },
    {
      "title": {"text": "(b)　\u2009合弁", "dx": 33, "offset": 6},
      "width": 419,
      "height": 369,
      "data": {"name": "goben"},
      "mark": {"type": "square", "filled": true, "stroke": "#1A1A1A", "strokeWidth": 1, "opacity": 1},
      "encoding": {
        "x": {"field": "year", "type": "ordinal", "title": null,
              "scale": {"type": "point", "padding": 0.52, "domain": ["2001年","2002年","2003年","2004年","2005年","2006年","2007年","2008年","2009年","2010年","2011年","2012年","2013年","2014年","2015年"]},
              "axis": {"labelAngle": -90}},
        "y": {"field": "industry", "type": "ordinal", "title": null,
              "scale": {"type": "point", "padding": 0.55, "domain": ["資源･ｴﾈﾙｷﾞｰ","素材","機械","ｴﾚｸﾄﾛﾆｸｽ","輸送機器","食品","生活･医薬","建設･不動産","製造","小売･飲食","金融","運輸","情報･通信･ﾈｯﾄ","ｻｰﾋﾞｽ","公的機関･大学"]},
              "axis": {"minExtent": 72, "maxExtent": 72}},
        "size": {"field": "percent", "type": "quantitative",
                 "scale": {"type": "log", "domain": [2.3, 25], "range": [0, 484], "zero": false, "nice": false},
                 "legend": {"title": "Percent:", "orient": "none", "legendX": 429, "legendY": 154,
                            "values": [5, 10, 20], "labelExpr": "slice(datum.label, 0, 1)"}},
        "color": {"field": "score", "type": "quantitative",
                  "scale": {"type": "linear", "domain": [0, 100], "range": ["#F7F7F7", "#000000"], "interpolate": "rgb"},
                  "legend": null}
      }
    }
  ],
  "spacing": 48,
  "resolve": {"scale": {"size": "independent", "color": "independent"}, "legend": {"size": "independent"}}
}
